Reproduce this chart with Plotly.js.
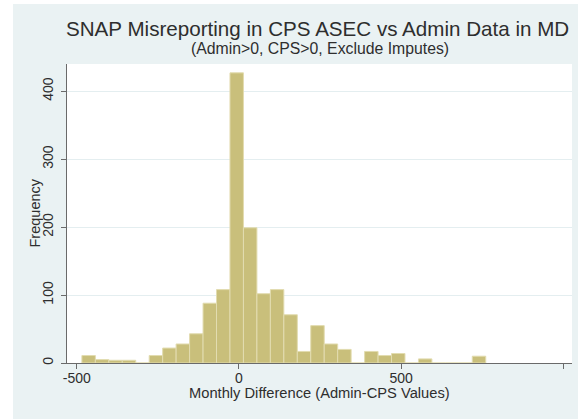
<!DOCTYPE html>
<html>
<head>
<meta charset="utf-8">
<script src="https://cdn.plot.ly/plotly-3.0.1.min.js"></script>
<style>
  html, body { margin: 0; padding: 0; background: #ffffff; width: 585px; height: 419px; overflow: hidden; }
  #chart { position: absolute; left: 13px; top: 4px; width: 565px; height: 415px; }
</style>
</head>
<body>
<div id="chart"></div>
<script>
// Histogram of monthly SNAP differences (Admin - CPS), 30 equal-width bins
const binCenters = [
  -463.3, -421.8, -380.3, -338.8, -297.3, -255.8, -214.3, -172.8, -131.3, -89.8,
  -48.3, -6.8, 34.8, 76.3, 117.8, 159.3, 200.8, 242.3, 283.8, 325.3,
  366.8, 408.3, 449.8, 491.3, 532.8, 574.3, 615.8, 657.3, 698.8, 740.3
];
const frequency = [
  11, 5, 4, 4, 0, 11, 22, 28, 43, 88,
  108, 427, 199, 102, 108, 71, 17, 55, 28, 20,
  0, 17, 11, 14, 0, 6, 0, 0, 0, 10
];
const binWidth = 41.5;

const xTickVals = [-500, 0, 500, 1000];
const xTickText = ['-500', '0', '500', '1000'];
const yTickVals = [0, 100, 200, 300, 400];
const yTickText = ['0', '100', '200', '300', '400'];

const titleText = 'SNAP Misreporting in CPS ASEC vs Admin Data in MD';
const subtitleText = '(Admin&gt;0, CPS&gt;0, Exclude Imputes)';
const xTitleText = 'Monthly Difference (Admin-CPS Values)';
const yTitleText = 'Frequency';

const FONT = '"Liberation Sans", Arial, Helvetica, sans-serif';
const TEXT = '#2e2e2e';
const AXIS = '#6a6a6a';

const trace = {
  type: 'bar',
  x: binCenters,
  y: frequency,
  width: binWidth,
  marker: { color: '#c9bf7b', line: { color: '#e2dcb0', width: 1 } },
  hoverinfo: 'x+y'
};

const layout = {
  width: 565,
  height: 415,
  margin: { l: 54, r: 6, t: 60, b: 56 },
  paper_bgcolor: '#eaf2f3',
  plot_bgcolor: '#ffffff',
  showlegend: false,
  bargap: 0,
  font: { family: FONT, size: 14, color: TEXT },
  xaxis: {
    range: [-530, 1027],
    tickmode: 'array', tickvals: xTickVals, ticktext: xTickText,
    ticks: 'outside', ticklen: 5, tickcolor: AXIS, tickwidth: 1,
    ticklabelstandoff: -3,
    showline: true, linecolor: AXIS, linewidth: 1,
    showgrid: false, zeroline: false,
    tickfont: { family: FONT, size: 14, color: TEXT }
  },
  yaxis: {
    range: [0, 440],
    tickmode: 'array', tickvals: yTickVals, ticktext: yTickText,
    ticks: 'outside', ticklen: 5, tickcolor: AXIS, tickwidth: 1,
    tickangle: -90, ticklabelstandoff: 2,
    showline: true, linecolor: AXIS, linewidth: 1,
    showgrid: true, gridcolor: '#e4eef0', gridwidth: 1,
    zeroline: false,
    tickfont: { family: FONT, size: 14, color: TEXT }
  },
  annotations: [
    { text: titleText, xref: 'paper', yref: 'paper', x: 0.5, y: 1, xanchor: 'center', yanchor: 'middle',
      xshift: -2, yshift: 36, showarrow: false, font: { family: FONT, size: 20.6, color: TEXT } },
    { text: subtitleText, xref: 'paper', yref: 'paper', x: 0.5, y: 1, xanchor: 'center', yanchor: 'middle',
      xshift: 0, yshift: 16, showarrow: false, font: { family: FONT, size: 15.8, color: TEXT } },
    { text: xTitleText, xref: 'paper', yref: 'paper', x: 0.5, y: 0, xanchor: 'center', yanchor: 'middle',
      xshift: 0, yshift: -30, showarrow: false, font: { family: FONT, size: 14.7, color: TEXT } },
    { text: yTitleText, xref: 'paper', yref: 'paper', x: 0, y: 0.5, xanchor: 'center', yanchor: 'middle',
      xshift: -33, yshift: 0, textangle: -90, showarrow: false, font: { family: FONT, size: 14.5, color: TEXT } }
  ]
};

Plotly.newPlot('chart', [trace], layout, { displayModeBar: false, staticPlot: true });
</script>
</body>
</html>
